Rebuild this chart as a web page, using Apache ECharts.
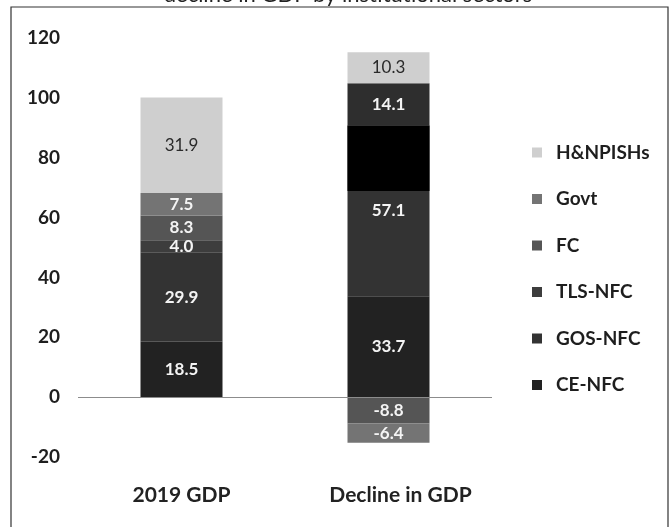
<!DOCTYPE html>
<html>
<head>
<meta charset="utf-8">
<script src="https://cdn.jsdelivr.net/npm/echarts@6/dist/echarts.min.js"></script>
<style>
  html, body { margin: 0; padding: 0; background: #fff; }
  #chart { width: 671px; height: 527px; }
</style>
</head>
<body>
<div id="chart"></div>
<script>
// Categories and per-sector contributions (stacked bottom to top)
const categories = ['2019 GDP', 'Decline in GDP'];
const ceNfc   = [18.5, 33.7];
const gosNfc  = [29.9, 57.1];
const tlsNfc  = [4.0, 14.1];
const fc      = [8.3, -8.8];
const govt    = [7.5, -6.4];
const hNpish  = [31.9, 10.3];
// Dark band inside the GOS-NFC block of the second bar
const bandBase   = [null, 68.9];
const bandHeight = [null, 21.9];
const yTicks = [-20, 0, 20, 40, 60, 80, 100, 120];

const FONT = 'Lato, "Open Sans", sans-serif';
const chart = echarts.init(document.getElementById('chart'));

const whiteLabel = {
  show: true, position: 'inside', color: '#f4f4f4',
  fontFamily: FONT, fontWeight: 'bold', fontSize: 17,
  formatter: p => p.value.toFixed(1)
};
const darkLabel = Object.assign({}, whiteLabel, { color: '#2a2a2a', fontWeight: 'normal' });

function stackSeries(name, data, color, label, itemColors) {
  return {
    name, type: 'bar', stack: 'gdp', barWidth: 82, barGap: '-100%',
    data: data.map((v, i) => (itemColors && itemColors[i])
      ? { value: v, itemStyle: { color: itemColors[i] } } : v),
    itemStyle: { color },
    label,
    emphasis: { disabled: true }
  };
}

const series = [
  stackSeries('CE-NFC', ceNfc, '#222222', whiteLabel),
  stackSeries('GOS-NFC', gosNfc, '#333333', whiteLabel),
  stackSeries('TLS-NFC', tlsNfc, '#3d3d3d', whiteLabel, [null, '#2e2e2e']),
  stackSeries('FC', fc, '#555555', whiteLabel),
  stackSeries('Govt', govt, '#747474', whiteLabel),
  stackSeries('H&NPISHs', hNpish, '#cfcfcf', darkLabel),
  {
    name: 'bandBase', type: 'bar', stack: 'band', barWidth: 82,
    data: bandBase, itemStyle: { color: 'transparent' }, silent: true
  },
  {
    name: 'band', type: 'bar', stack: 'band', barWidth: 82,
    data: bandHeight, itemStyle: { color: '#000' }, silent: true,
    markLine: {
      silent: true, symbol: 'none', label: { show: false },
      lineStyle: { color: '#8c8c8c', width: 1.2, type: 'solid' },
      data: [{ yAxis: 0 }]
    }
  }
];

// Second category label sits a little right of its bar
const labelShift = [0, 24];

chart.setOption({
  animation: false,
  backgroundColor: '#fff',
  grid: { left: 78, right: 179, top: 38, bottom: 70 },
  xAxis: {
    type: 'category',
    data: categories.map((c, i) => ({
      value: c, textStyle: { padding: [0, 0, 0, labelShift[i]] }
    })),
    axisLine: { show: false }, axisTick: { show: false },
    axisLabel: {
      color: '#222', fontFamily: FONT, fontWeight: 'bold', fontSize: 21, margin: 28
    }
  },
  yAxis: {
    type: 'value', min: yTicks[0], max: yTicks[yTicks.length - 1], interval: 20,
    axisLine: { show: false }, axisTick: { show: false }, splitLine: { show: false },
    axisLabel: {
      color: '#1e1e1e', fontFamily: FONT, fontWeight: 'bold', fontSize: 19, margin: 18
    }
  },
  legend: {
    orient: 'vertical', left: 527, top: 138, itemGap: 27.5,
    itemWidth: 10, itemHeight: 10, icon: 'rect',
    data: ['H&NPISHs', 'Govt', 'FC', 'TLS-NFC', 'GOS-NFC', 'CE-NFC'],
    textStyle: {
      color: '#1e1e1e', fontFamily: FONT, fontWeight: 'bold', fontSize: 19,
      padding: [0, 0, 0, 9]
    },
    selectedMode: false
  },
  graphic: [
    {
      type: 'rect', shape: { x: 11, y: 7, width: 657, height: 540 },
      style: { fill: 'none', stroke: '#333', lineWidth: 1.2 }, silent: true
    },
    {
      type: 'text', x: 348, y: 6,
      style: {
        text: 'decline in GDP by institutional sectors', fill: '#222',
        font: '22px ' + FONT, textAlign: 'center', textVerticalAlign: 'bottom'
      },
      silent: true
    }
  ],
  series
});
</script>
</body>
</html>
